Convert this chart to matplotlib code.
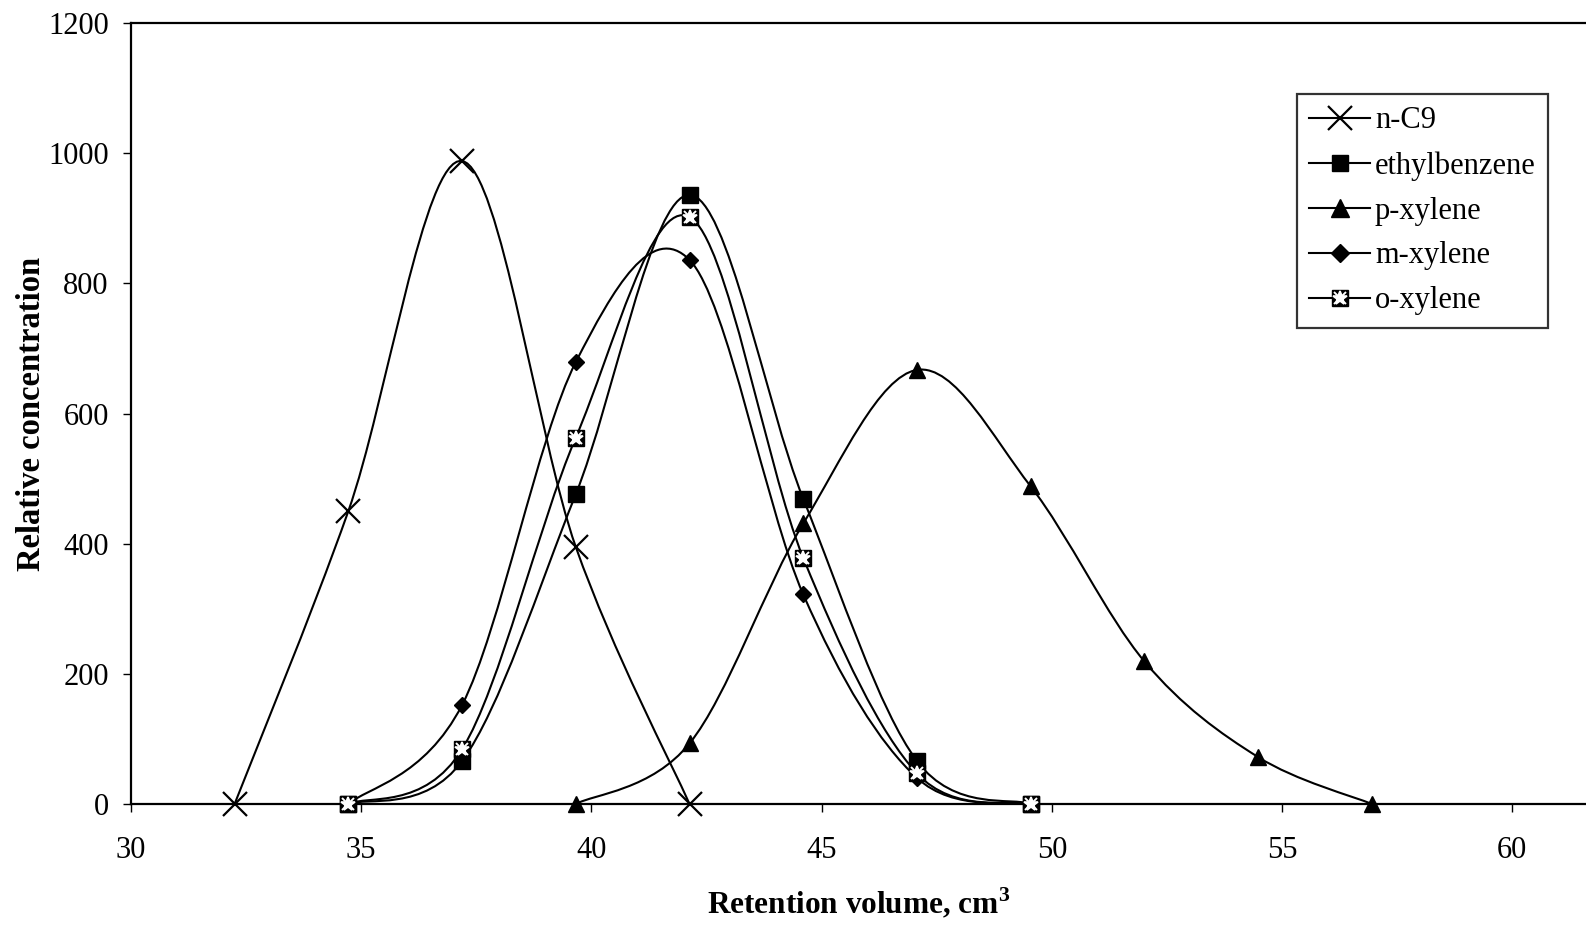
import matplotlib.pyplot as plt
from matplotlib.path import Path
from matplotlib.patches import PathPatch
from matplotlib.lines import Line2D
import numpy as np

plt.rcParams['font.family'] = ['Liberation Serif', 'DejaVu Serif']
plt.rcParams['mathtext.fontset'] = 'custom'
plt.rcParams['mathtext.rm'] = 'Liberation Serif'
plt.rcParams['mathtext.bf'] = 'Liberation Serif:bold'

# Retention volumes of the sampled fractions (cm3)
vol = [32.25, 34.72, 37.19, 39.66, 42.13, 44.60, 47.07, 49.54, 52.01, 54.48, 56.95]

nc9_x = vol[0:5]
nc9_y = [0, 450, 988, 395, 0]

eb_x = vol[1:8]
eb_y = [0, 66, 476, 936, 469, 66, 0]

px_x = vol[3:11]
px_y = [0, 93, 431, 667, 488, 219, 72, 0]

mx_x = vol[1:8]
mx_y = [0, 152, 679, 836, 322, 40, 0]

ox_x = vol[1:8]
ox_y = [0, 84, 563, 902, 378, 47, 0]


def smooth_path(x, y):
    # Catmull-Rom style bezier segments through the points (spreadsheet "smoothed line")
    x = np.asarray(x, float)
    y = np.asarray(y, float)
    pts = np.column_stack([x, y])
    n = len(pts)
    verts = [pts[0]]
    codes = [Path.MOVETO]
    for i in range(n - 1):
        p0 = pts[max(i - 1, 0)]
        p1 = pts[i]
        p2 = pts[i + 1]
        p3 = pts[min(i + 2, n - 1)]
        c1 = p1 + (p2 - p0) / 6.0
        c2 = p2 - (p3 - p1) / 6.0
        verts += [c1, c2, p2]
        codes += [Path.CURVE4] * 3
    return Path(verts, codes)


fig = plt.figure(figsize=(15.86, 9.33), dpi=100)
ax = fig.add_axes([0.0826, 0.1383, 0.9174, 0.837])

lw = 1.5
series = [(nc9_x, nc9_y), (eb_x, eb_y), (px_x, px_y), (mx_x, mx_y), (ox_x, ox_y)]
for sx, sy in series:
    ax.add_patch(PathPatch(smooth_path(sx, sy), fill=False, lw=lw, color='black', zorder=2))

ax.plot(nc9_x, nc9_y, ls='none', marker='x', ms=17, mew=1.6, color='black', zorder=3, clip_on=False)
ax.plot(eb_x, eb_y, ls='none', marker='s', ms=11, color='black', zorder=3, clip_on=False)
ax.plot(px_x, px_y, ls='none', marker='^', ms=12, color='black', zorder=3, clip_on=False)
ax.plot(mx_x, mx_y, ls='none', marker='D', ms=8.5, color='black', zorder=3, clip_on=False)
ax.plot(ox_x, ox_y, ls='none', marker='s', ms=11, color='black', zorder=3, clip_on=False)
ax.plot(ox_x, ox_y, ls='none', marker='*', ms=10, mew=1.2, mec='white', color='white', zorder=4, clip_on=False)
ax.plot(ox_x, ox_y, ls='none', marker='x', ms=8, mew=1.4, color='white', zorder=4, clip_on=False)

ax.set_xlim(30, 61.6)
ax.set_ylim(0, 1200)
ax.set_xticks([30, 35, 40, 45, 50, 55, 60])
ax.set_yticks([0, 200, 400, 600, 800, 1000, 1200])
ax.tick_params(axis='both', labelsize=22, length=6, width=1, direction='out')
ax.tick_params(axis='x', pad=17)
ax.tick_params(axis='y', pad=10)
ax.spines['right'].set_visible(False)
for s in ['left', 'top', 'bottom']:
    ax.spines[s].set_linewidth(1.6)

ax.set_xlabel(r'Retention volume, cm$^\mathbf{3}$', fontsize=22.5, fontweight='bold')
ax.set_ylabel('Relative concentration', fontsize=23.5, fontweight='bold')
ax.xaxis.set_label_coords(0.5, -0.104)
ax.yaxis.set_label_coords(-0.058, 0.5)

# legend entries: line through marker
h_nc9 = Line2D([], [], color='black', lw=lw, marker='x', ms=17, mew=1.6)
h_eb = Line2D([], [], color='black', lw=lw, marker='s', ms=12)
h_px = Line2D([], [], color='black', lw=lw, marker='^', ms=13)
h_mx = Line2D([], [], color='black', lw=lw, marker='D', ms=9.5)
h_ox = (Line2D([], [], color='black', lw=lw, marker='s', ms=11),
        Line2D([], [], ls='none', marker='*', ms=10, mew=1.2, mec='white', color='white'),
        Line2D([], [], ls='none', marker='x', ms=8, mew=1.4, color='white'))
leg = ax.legend([h_nc9, h_eb, h_px, h_mx, h_ox],
                ['n-C9', 'ethylbenzene', 'p-xylene', 'm-xylene', 'o-xylene'],
                loc='upper left', bbox_to_anchor=(1297 / 1586, 1 - 94 / 933),
                bbox_transform=fig.transFigure, borderaxespad=0, fontsize=22,
                frameon=True, fancybox=False, edgecolor='black', handlelength=2.0,
                handletextpad=0.15, labelspacing=0.52, borderpad=0.4)
leg.get_frame().set_linewidth(1.6)

fig.savefig('out.png', dpi=100)
